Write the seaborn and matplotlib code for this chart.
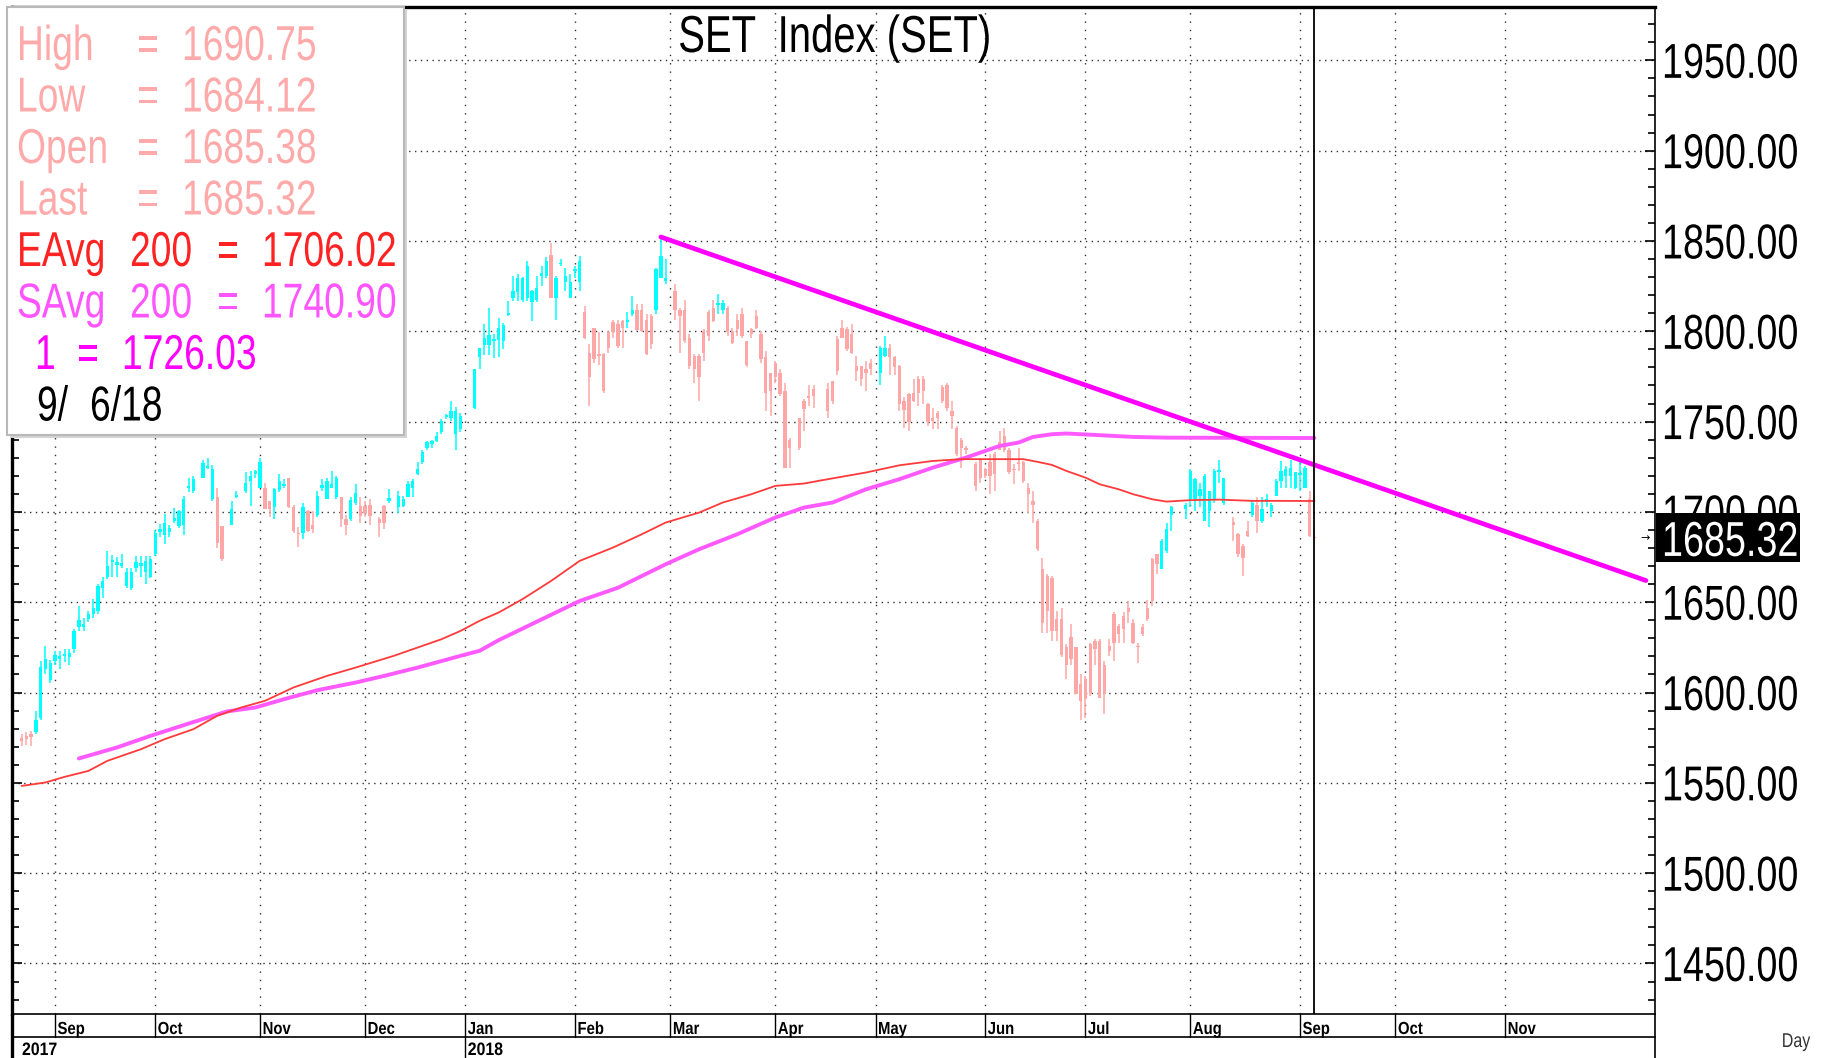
import numpy as np
import pandas as pd
import matplotlib
matplotlib.use('Agg')
import matplotlib.pyplot as plt
import matplotlib.transforms as mtransforms
from matplotlib.lines import Line2D
from matplotlib.patches import Rectangle, PathPatch
from matplotlib.textpath import TextPath
from matplotlib.font_manager import FontProperties
from matplotlib.ticker import FormatStrFormatter, MultipleLocator
import seaborn as sns

# SET Index daily candles (open, high, low, close), one row per weekday
# from 23 Aug 2017 to 6 Sep 2018, None = market closed
first_day = '2017-08-23'

aug17 = [
    (1575, 1577, 1570.5, 1573), (1576, 1578, 1571, 1574.5), (1577, 1578.5, 1570.5, 1575.5),
    (1578, 1590, 1577, 1585), (1586, 1617.5, 1585, 1614), (1613, 1626, 1610, 1618.5),
    (1607, 1618, 1605, 1616.5),
]
sep17 = [
    (1617.5, 1623, 1615, 1621), (1618.5, 1623, 1613, 1620), (1620, 1624, 1617, 1621.5),
    (1619.5, 1624, 1615, 1622), (1624, 1635, 1622, 1634), (1636, 1648, 1634, 1640),
    (1636.5, 1641.5, 1634, 1638), (1640.5, 1645, 1639, 1643.5), (1643.5, 1652, 1641, 1647),
    (1645, 1660, 1643.5, 1659), (1658, 1664, 1652.5, 1662), (1664, 1678.5, 1663, 1670),
    (1672, 1676, 1664, 1673.5), (1670.5, 1675, 1664, 1672), (1670, 1676.5, 1669, 1671.5),
    (1659, 1669, 1658, 1666.5), (1658, 1669, 1657, 1667), (1669, 1675.5, 1667, 1672),
    (1670, 1675.5, 1664, 1671.5), (1666.5, 1675.5, 1660, 1673), (1664, 1675.5, 1663.5, 1674),
]
oct17 = [
    (1676.5, 1690, 1675.5, 1688.5), (1689, 1693.5, 1686, 1690.5), (1687, 1699, 1682, 1694),
    (1689, 1693, 1686, 1691), (1695, 1702, 1694, 1696.5), (1692, 1701, 1691, 1700.5),
    (1693, 1709, 1687, 1707), (1713.5, 1719, 1711, 1714.5), (1711.5, 1720, 1710.5, 1718),
    None, (1719, 1728.5, 1718.5, 1727), (1724.5, 1730, 1723.5, 1725.5),
    (1707, 1726, 1706, 1723.5), (1708, 1713, 1680, 1683), (1692, 1692, 1673, 1674),
    None, (1693, 1706, 1693, 1701.5), (1708.5, 1711.5, 1707.5, 1709.5),
    None, (1711.5, 1722, 1710.5, 1716), (1717, 1722.5, 1703, 1720),
    (1721, 1723, 1719, 1722.5),
]
nov17 = [
    (1713.5, 1730, 1713, 1727.5), (1713.5, 1716, 1701.5, 1701.5), (1706, 1706, 1697, 1701.5),
    (1702.5, 1713.5, 1696, 1712.5), (1712, 1721, 1711, 1717), (1714.5, 1718, 1713.5, 1715.5),
    (1718.5, 1719, 1702, 1702.5), (1702.5, 1704, 1688.5, 1689.5), (1688.5, 1691.5, 1680.5, 1687.5),
    (1688.5, 1705, 1685, 1702.5), (1700.5, 1701, 1689, 1689.5), (1693, 1700.5, 1688.5, 1690.5),
    (1698.5, 1711.5, 1697, 1709), (1713.5, 1718, 1711.5, 1715), (1707, 1719, 1707, 1717),
    (1713.5, 1722.5, 1713, 1715.5), (1708, 1720, 1707, 1719), (1708, 1708, 1691.5, 1696),
    (1696, 1698.5, 1687, 1693), (1696, 1708, 1695, 1706.5), (1705, 1715.5, 1704, 1710.5),
    (1703.5, 1708, 1694, 1698),
]
dec17 = [
    (1703.5, 1706, 1697, 1699.5), (1704, 1707, 1692.5, 1698), None,
    (1696, 1697, 1686, 1694), (1703.5, 1704, 1690.5, 1694), (1706, 1712.5, 1705, 1707.5),
    None, (1702.5, 1711.5, 1699.5, 1709), (1703.5, 1709, 1702.5, 1707),
    (1708, 1717, 1708, 1715.5), (1713.5, 1718, 1708, 1717), (1721, 1727.5, 1720.5, 1723.5),
    (1727.5, 1734, 1726.5, 1733), (1735.5, 1739.5, 1734, 1738.5), (1737.5, 1740, 1735.5, 1739),
    (1739.5, 1744, 1738.5, 1742), (1744, 1751.5, 1743, 1750.5), (1752.5, 1754, 1751.5, 1753.5),
    (1752, 1761.5, 1750.5, 1756), (1743, 1758, 1734.5, 1756), (1746, 1755, 1744, 1753),
]
jan18 = [
    None, None, (1757.5, 1779, 1757, 1779),
    (1786, 1791, 1779, 1790.5), (1792.5, 1804, 1787, 1796), (1792.5, 1813, 1787, 1798),
    (1794.5, 1798.5, 1785, 1795.5), (1795, 1807.5, 1786, 1802), (1794.5, 1804.5, 1790, 1803.5),
    (1809, 1817, 1808.5, 1810), (1818.5, 1830.5, 1817, 1822.5), (1821.5, 1831.5, 1817, 1829.5),
    (1817.5, 1830, 1816, 1829.5), (1818.5, 1839, 1817, 1836), (1816, 1823, 1805.5, 1822.5),
    (1817.5, 1830.5, 1816, 1824), (1830.5, 1836, 1825, 1832), (1830.5, 1841, 1829.5, 1839),
    (1842.5, 1849, 1818.5, 1818.5), (1818.5, 1830.5, 1806, 1829.5), (1837, 1840, 1836, 1838),
    (1827, 1835, 1822.5, 1830.5), (1818.5, 1831.5, 1818.5, 1827),
]
feb18 = [
    (1833.5, 1836, 1829.5, 1834.5), (1827, 1841.5, 1822.5, 1839), (1810.5, 1814, 1795.5, 1796.5),
    (1788, 1793, 1758.5, 1774.5), (1802, 1802, 1782.5, 1784.5), (1787.5, 1799.5, 1781.5, 1786.5),
    (1787.5, 1788, 1766, 1767), (1799.5, 1800, 1788, 1791), (1805, 1806.5, 1796.5, 1799.5),
    (1804, 1806.5, 1791, 1792), (1805.5, 1806.5, 1791, 1802), (1805, 1810.5, 1802, 1806.5),
    (1809.5, 1819.5, 1808.5, 1812), (1811.5, 1815, 1800, 1800.5), (1812, 1815, 1799.5, 1800),
    (1806.5, 1809.5, 1787, 1787.5), (1808.5, 1809.5, 1790, 1793), (1812, 1835, 1809.5, 1834.5),
    (1829.5, 1852, 1829.5, 1841.5), (1828, 1840, 1826, 1829.5),
]
mar18 = [
    None, (1822.5, 1826, 1806.5, 1811.5), (1812, 1813, 1788, 1808.5),
    (1812, 1817.5, 1793.5, 1794.5), (1796.5, 1798.5, 1779, 1781), (1786.5, 1787.5, 1771.5, 1779),
    (1786.5, 1787.5, 1761.5, 1774.5), (1800, 1801, 1783.5, 1788), (1810.5, 1811.5, 1794.5, 1797.5),
    (1813, 1817.5, 1805, 1805.5), (1814.5, 1820.5, 1809.5, 1815.5), (1811.5, 1817.5, 1809.5, 1815.5),
    (1813, 1814, 1797.5, 1799.5), (1800, 1802, 1793, 1793.5), (1806.5, 1809.5, 1797.5, 1801),
    (1809.5, 1813, 1796.5, 1797.5), (1794.5, 1794.5, 1780, 1781.5), (1801, 1802, 1796.5, 1798.5),
    (1808.5, 1811.5, 1801, 1802), (1798.5, 1800, 1782.5, 1784.5), (1785.5, 1789, 1756, 1766),
    (1777, 1777, 1753, 1767),
]
apr18 = [
    (1782.5, 1783.5, 1771.5, 1774.5), (1777, 1779, 1764, 1765), (1767, 1771.5, 1724.5, 1724.5),
    (1740, 1741, 1724.5, 1735.5), None, (1752, 1752, 1734.5, 1735.5),
    (1761.5, 1762.5, 1745, 1757), (1764, 1770.5, 1758.5, 1763), (1768, 1770.5, 1757.5, 1764),
    None, None, (1768, 1771.5, 1752, 1756),
    (1772.5, 1772.5, 1759.5, 1761.5), (1795.5, 1797.5, 1776, 1778), (1802, 1806.5, 1796.5, 1796.5),
    (1801, 1802.5, 1789, 1790), (1798.5, 1804, 1787.5, 1788), (1781, 1786.5, 1772.5, 1778),
    (1781, 1781, 1769.5, 1773.5), (1779, 1783.5, 1767, 1777), (1782.5, 1784.5, 1776, 1779),
]
may18 = [
    None, (1777, 1792, 1770.5, 1791), (1786.5, 1797.5, 1785.5, 1791),
    (1791, 1793, 1776, 1785.5), (1785.5, 1786.5, 1776, 1780), (1781, 1781.5, 1756, 1759.5),
    (1761.5, 1763.5, 1746.5, 1756.5), (1765, 1766, 1745, 1749.5), (1766, 1773.5, 1761, 1761.5),
    (1773.5, 1775.5, 1758.5, 1766), (1773.5, 1775.5, 1759.5, 1767), (1759.5, 1760.5, 1747.5, 1749.5),
    (1752, 1757.5, 1746, 1750.5), (1755, 1756, 1746, 1752), (1769, 1770.5, 1760.5, 1761.5),
    (1770.5, 1771.5, 1756, 1757.5), (1756, 1761.5, 1746, 1753), (1746.5, 1747.5, 1731, 1732),
    (1740, 1741, 1724.5, 1735.5), (1735.5, 1736.5, 1732, 1734), None,
    (1726.5, 1727.5, 1711.5, 1714.5), (1729, 1730, 1716, 1719),
]
jun18 = [
    (1723.5, 1724.5, 1719, 1720), (1727.5, 1732, 1710, 1720), (1732, 1733, 1711.5, 1721),
    (1738.5, 1745, 1734, 1734.5), (1742, 1746.5, 1733, 1734), (1734.5, 1735.5, 1721, 1722),
    (1724, 1726.5, 1715.5, 1723), (1727.5, 1735.5, 1722.5, 1726.5), (1727.5, 1728, 1716, 1717),
    (1713, 1716, 1699.5, 1710), (1706, 1711.5, 1694, 1704), (1695, 1696, 1678.5, 1679.5),
    (1668.5, 1674.5, 1633, 1638.5), (1664.5, 1665.5, 1633, 1645), (1663.5, 1664.5, 1628.5, 1634),
    (1640.5, 1645, 1628.5, 1634), (1640.5, 1647, 1619.5, 1621), (1625, 1627, 1607.5, 1615),
    (1630.5, 1638, 1615, 1618.5), (1625, 1625, 1599, 1599), (1604.5, 1610, 1585, 1595.5),
]
jul18 = [
    (1607.5, 1609, 1586, 1596.5), (1627, 1627.5, 1598, 1600), (1628.5, 1629.5, 1615, 1624),
    (1628.5, 1629.5, 1597, 1597), (1615, 1617.5, 1588, 1599), (1626, 1629.5, 1620, 1623),
    (1643.5, 1644.5, 1617.5, 1627.5), (1637, 1638, 1627.5, 1632.5), (1642.5, 1644.5, 1627.5, 1635),
    (1647, 1650.5, 1638.5, 1644.5), (1638.5, 1640.5, 1627, 1627.5), (1626, 1627.5, 1616.5, 1625),
    (1636, 1638, 1631.5, 1632.5), (1647, 1651.5, 1639.5, 1640.5), (1674, 1674.5, 1648, 1650.5),
    (1676.5, 1676.5, 1665.5, 1671), (1668.5, 1685, 1668.5, 1684), (1678.5, 1694, 1677.5, 1690.5),
    (1698.5, 1703.5, 1689.5, 1702.5), None, None,
    (1701.5, 1705, 1696, 1704),
]
aug18 = [
    (1707, 1723.5, 1702.5, 1722.5), (1707, 1719, 1700.5, 1718), (1709, 1716, 1702.5, 1712.5),
    (1695, 1721, 1695, 1720), (1700.5, 1711.5, 1691.5, 1711.5), (1707, 1723.5, 1705, 1722.5),
    (1722, 1729, 1716, 1723), (1705, 1719, 1704, 1719), None,
    (1694.5, 1697, 1684, 1693), (1687.5, 1688.5, 1675, 1676.5), (1681, 1682, 1664.5, 1674.5),
    (1689.5, 1695, 1686, 1686.5), (1698.5, 1706, 1697, 1705), (1704, 1708, 1688.5, 1695),
    (1695, 1708, 1694, 1701.5), (1706, 1710, 1702.5, 1707), (1700.5, 1705, 1697, 1704),
    (1709, 1718, 1709, 1717), (1717, 1728, 1713.5, 1722.5), (1720, 1725.5, 1713.5, 1723.5),
    (1720, 1729, 1713.5, 1724.5), (1713.5, 1722, 1712.5, 1722),
]
sep18 = [
    (1720.5, 1727.5, 1711.5, 1721), (1713.5, 1725.5, 1713.5, 1724.5),
    (1707, 1711.5, 1686, 1686.5), (1685.38, 1690.75, 1684.12, 1685.32),
]

# 200 day exponential average (red) (day index, value)
ema_x = [0, 5, 9, 14, 18, 25, 30, 36, 41, 46, 51, 57, 64, 70, 78, 83, 88, 92, 96, 100,
         105, 111, 117, 124, 130, 135, 142, 147, 153, 158, 164, 169, 177, 184, 191, 197,
         205, 210, 213, 216, 219, 223, 226, 230, 233, 237, 240, 245, 251, 258, 265, 271]
ema_y = [1548.3, 1550.2, 1553.3, 1556.6, 1562.2, 1568.6, 1574.2, 1579.7, 1587.1, 1591.7,
         1595.4, 1602.8, 1609.2, 1613.8, 1620.3, 1624.9, 1629.5, 1634.1, 1639.7, 1644.3,
         1651.7, 1661.8, 1672.9, 1680.3, 1687.6, 1694.1, 1699.6, 1705.2, 1709.8, 1714.4,
         1715.7, 1718.1, 1721.8, 1725.8, 1728.2, 1729.2, 1729.2, 1729.2, 1727.7, 1726.0,
         1722.7, 1719.0, 1715.3, 1712.5, 1709.8, 1707.0, 1705.7, 1706.5, 1706.8, 1706.1,
         1706.1, 1706.02]

# 200 day simple average (magenta)
sma_x = [12, 20, 27, 35, 43, 49, 55, 62, 70, 76, 83, 92, 96, 100, 117, 125, 135, 142, 150,
         158, 164, 170, 177, 184, 191, 198, 205, 209, 212, 216, 219, 225, 233, 240, 271]
sma_y = [1563.5, 1569.6, 1576.0, 1582.8, 1589.5, 1591.7, 1596.3, 1601.3, 1605.5, 1609.2,
         1613.8, 1620.3, 1623.1, 1629.0, 1650.7, 1658.0, 1671.0, 1679.3, 1687.6, 1696.9,
         1702.4, 1705.2, 1712.5, 1718.1, 1724.5, 1730.1, 1736.5, 1738.4, 1741.5, 1743.0,
         1743.4, 1742.6, 1741.5, 1741.1, 1740.9]

# down trend line from the February high
trend_x = [134, 340.5]
trend_y = [1852.2, 1662.0]

price_ticks = [1450, 1500, 1550, 1600, 1650, 1700, 1750, 1800, 1850, 1900, 1950]
stat_labels = ['High', 'Low', 'Open', 'Last']
stat_values = [1690.75, 1684.12, 1685.38, 1685.32]
ema_last = 1706.02
sma_last = 1740.90
trend_last = 1726.03
date_text = '9/  6/18'
cursor_x = 271

sns.set_style('white')
plt.rcParams['font.family'] = ['Liberation Sans', 'DejaVu Sans']

W, H = 1822, 1058
fig = plt.figure(figsize=(W / 100, H / 100), dpi=100)

FONT = FontProperties(family='Liberation Sans')
FONT_B = FontProperties(family='Liberation Sans', weight='bold')


def fx(px):
    return px / W


def fy(py):
    return 1 - py / H


def narrow_text(x, base, s, size, color, squeeze=0.77, ha='left', prop=FONT, zorder=10):
    # the chart uses a condensed face; squeeze Liberation Sans horizontally
    path = TextPath((0, 0), s, size=size, prop=prop)
    width = path.get_extents().x1 * squeeze
    if ha == 'center':
        x -= width / 2
    elif ha == 'right':
        x -= width
    tr = mtransforms.Affine2D().scale(squeeze / 100, 1 / 100).translate(x / 100, (H - base) / 100)
    fig.add_artist(PathPatch(path, transform=tr + fig.dpi_scale_trans, fc=color, ec='none',
                             lw=0, zorder=zorder))


ax = fig.add_axes([fx(11.6), fy(1013.5), fx(1655) - fx(11.6), fy(6.5) - fy(1013.5)])

rows = aug17 + sep17 + oct17 + nov17 + dec17 + jan18 + feb18 + mar18 + apr18 + may18 + jun18 + jul18 + aug18 + sep18
ohlc = pd.DataFrame([r if r is not None else (np.nan,) * 4 for r in rows],
                    columns=['open', 'high', 'low', 'close'])
ohlc['x'] = np.arange(len(ohlc))
ohlc = ohlc.dropna()
up = ohlc['close'] >= ohlc['open']
colors = np.where(up, '#00FFFF', '#FFA6A6')

# candles
ax.vlines(ohlc['x'], ohlc['low'], ohlc['high'], colors=colors, lw=1.1, zorder=3)
body_low = ohlc[['open', 'close']].min(axis=1)
body_h = (ohlc['close'] - ohlc['open']).abs().clip(lower=1.0)
ax.bar(ohlc['x'], body_h, bottom=body_low, width=0.7, color=colors, linewidth=0, zorder=4)

# averages and trend line
sns.lineplot(x=sma_x, y=sma_y, ax=ax, color='#FF5AFF', lw=2.8, zorder=5)
sns.lineplot(x=ema_x, y=ema_y, ax=ax, color='#FF3A3A', lw=1.3, zorder=5)
sns.lineplot(x=trend_x, y=trend_y, ax=ax, color='#FF00FF', lw=3.4, zorder=6)
ax.axvline(cursor_x, color='black', lw=1.3, zorder=7)

# month positions on the weekday axis
days = pd.bdate_range(first_day, '2018-11-30')
month_pos = [i for i in range(1, len(days)) if days[i].month != days[i - 1].month]
month_names = [days[i].strftime('%b') for i in month_pos]

ax.set_xlim(-2.1, 342.4)
ax.set_ylim(1422.3, 1979.8)
ax.set_xlabel('')
ax.set_ylabel('')
ax.set_xticks(month_pos)
ax.set_xticklabels([])
ax.tick_params(axis='x', length=0)
ax.set_yticks(price_ticks)
ax.yaxis.set_minor_locator(MultipleLocator(10))
ax.tick_params(axis='y', which='both', left=True, right=True, labelleft=False,
               labelright=False, direction='in', width=1.2, colors='black')
ax.tick_params(axis='y', which='major', length=7)
ax.tick_params(axis='y', which='minor', length=5)
ax.xaxis.grid(True, color='#303030', lw=1.0, linestyle=(0, (1, 5)))
ax.yaxis.grid(True, color='#303030', lw=1.0, linestyle=(0, (1, 3.2)))
ax.set_axisbelow(True)
for side, lw in [('left', 2.4), ('top', 2.4), ('right', 1.2), ('bottom', 1.2)]:
    ax.spines[side].set_visible(True)
    ax.spines[side].set_color('black')
    ax.spines[side].set_linewidth(lw)


def ypx(v):
    return H - ax.transData.transform((0, v))[1]


def xpx(i):
    return ax.transData.transform((i, 0))[0]


# price scale labels
for t in price_ticks:
    narrow_text(1662, ypx(t) + 17.5, f'{t:.2f}', 49, 'black')

# last price box on the price scale
yl = ypx(stat_values[3])
fig.add_artist(Rectangle((fx(1656), fy(yl + 24)), fx(144), fy(yl - 25) - fy(yl + 24),
                         transform=fig.transFigure, fc='black', ec='none', zorder=9))
narrow_text(1662, yl + 17.5, f'{stat_values[3]:.2f}', 49, 'white', zorder=10)
ytrans = mtransforms.blended_transform_factory(ax.transAxes, ax.transData)
ax.text(0.997, stat_values[3], '→', transform=ytrans, ha='right', va='center',
        fontsize=8, color='black', zorder=10, family=['DejaVu Sans'])

narrow_text(833.5, 52, 'SET  Index (SET)', 52, 'black', ha='center', zorder=8)

# date scale below the chart
xtrans = mtransforms.blended_transform_factory(ax.transData, fig.transFigure)
fig.add_artist(Line2D([fx(11.6), fx(1655)], [fy(1036.5)] * 2, transform=fig.transFigure,
                      color='black', lw=1.2))
fig.add_artist(Line2D([fx(11.6)] * 2, [0, fy(1013.5)], transform=fig.transFigure,
                      color='black', lw=2.4))
fig.add_artist(Line2D([fx(1655)] * 2, [0, fy(1013.5)], transform=fig.transFigure,
                      color='black', lw=1.2))
for pos, name in zip(month_pos, month_names):
    bottom = 0 if name == 'Jan' else fy(1036.5)
    fig.add_artist(Line2D([pos, pos], [bottom, fy(1013.5)], transform=xtrans,
                          color='black', lw=1.0))
    narrow_text(xpx(pos) + 2.5, 1034, name, 17.5, 'black', squeeze=0.85, prop=FONT_B)
    if name == 'Jan':
        narrow_text(xpx(pos) + 2.5, 1055, str(days[pos].year), 18, 'black', squeeze=0.88,
                    prop=FONT_B)
narrow_text(22, 1055, str(days[0].year), 18, 'black', squeeze=0.88, prop=FONT_B)
narrow_text(1796, 1047, 'Day', 20, '#333333', squeeze=0.8, ha='center')

# value box in the upper left corner
fig.add_artist(Rectangle((fx(10), fy(438)), fx(397), fy(10) - fy(438), transform=fig.transFigure,
                         fc='#D4D4D4', ec='none', zorder=8))
fig.add_artist(Rectangle((fx(7), fy(435)), fx(397), fy(7) - fy(435), transform=fig.transFigure,
                         fc='white', ec='#B8B8B8', lw=1.5, zorder=9))

pink = '#FFAAAA'
LS = 49
SQ = 0.76
for k, (lab, val) in enumerate(zip(stat_labels, stat_values)):
    base = 60 + 51.5 * k
    narrow_text(17, base, lab, LS, pink, squeeze=SQ)
    narrow_text(137, base, '=', LS, pink, squeeze=SQ)
    narrow_text(182, base, f'{val:.2f}', LS, pink, squeeze=SQ)

for k, (lab, val, col) in enumerate([('EAvg', ema_last, '#FF2222'), ('SAvg', sma_last, '#FF55FF')]):
    base = 60 + 51.5 * (4 + k)
    narrow_text(17, base, lab, LS, col, squeeze=SQ)
    narrow_text(130, base, '200', LS, col, squeeze=SQ)
    narrow_text(217, base, '=', LS, col, squeeze=SQ)
    narrow_text(262, base, f'{val:.2f}', LS, col, squeeze=SQ)

base = 60 + 51.5 * 6
narrow_text(35, base, '1', LS, '#FF00FF', squeeze=SQ)
narrow_text(77, base, '=', LS, '#FF00FF', squeeze=SQ)
narrow_text(122, base, f'{trend_last:.2f}', LS, '#FF00FF', squeeze=SQ)
narrow_text(37, 60 + 51.5 * 7, '9/', LS, 'black', squeeze=SQ)
narrow_text(90, 60 + 51.5 * 7, '6/18', LS, 'black', squeeze=SQ)

fig.savefig('out.png', dpi=100)
